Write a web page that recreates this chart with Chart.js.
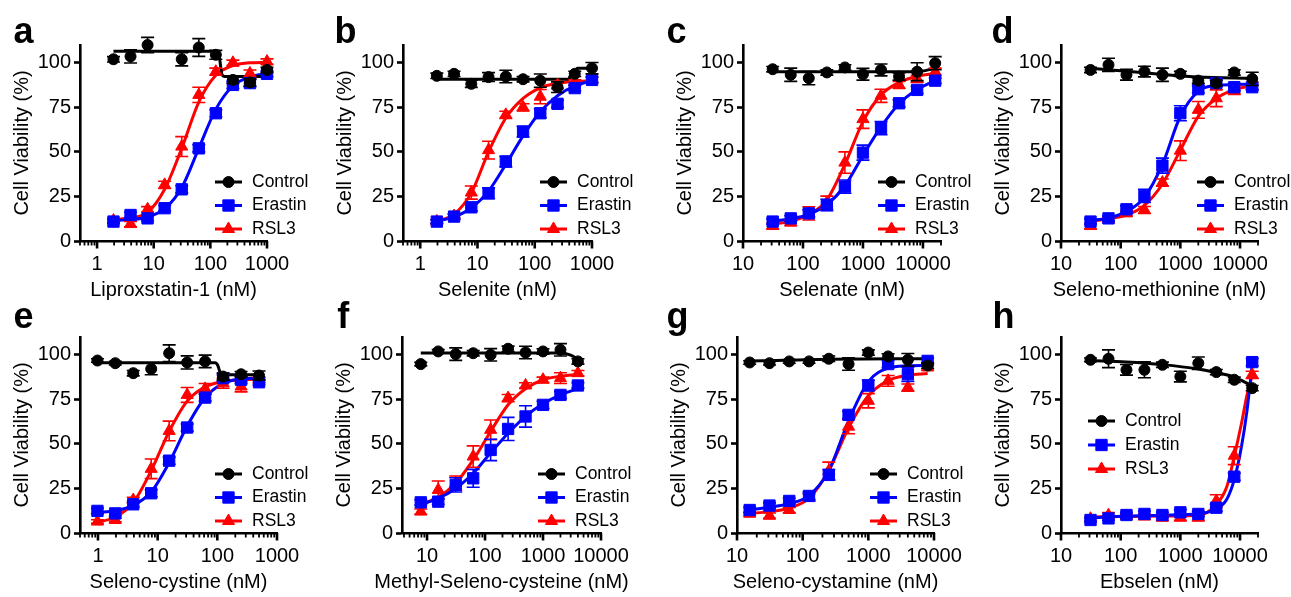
<!DOCTYPE html>
<html>
<head>
<meta charset="utf-8">
<script src="https://cdn.jsdelivr.net/npm/chart.js@4.4.1/dist/chart.umd.min.js"></script>
<style>
    html, body { margin: 0; padding: 0; background: #fff; }
    body { width: 1291px; height: 597px; position: relative; overflow: hidden; font-family: 'Liberation Sans', Arial, sans-serif; }
    canvas { position: absolute; }
    .letra { position: absolute; font-weight: bold; font-size: 36px; line-height: 36px; color: #000; }
</style>
</head>
<body>
<script>
// Concentraciones (nM) y marcas del eje x
const concAB = [1.95, 3.9, 7.8, 15.6, 31.25, 62.5, 125, 250, 500, 1000];
const concCDH = [31.25, 62.5, 125, 250, 500, 1000, 2000, 4000, 8000, 16000];
const concE = [0.98, 1.95, 3.9, 7.8, 15.6, 31.25, 62.5, 125, 250, 500];
const concF = [7.8, 15.6, 31.25, 62.5, 125, 250, 500, 1000, 2000, 4000];
const concG = [15.6, 31.25, 62.5, 125, 250, 500, 1000, 2000, 4000, 8000];
const ticksABE = [1, 10, 100, 1000];
const ticksOtros = [10, 100, 1000, 10000];
const yTicks = [0, 25, 50, 75, 100];
const series = ['Control', 'Erastin', 'RSL3'];

// a - Liproxstatin-1
const ctrlA = [102, 103.6, 110, null, 102, 108.6, 104.5, 90.4, 89, 96];
const ctrlSemA = [1.5, 3.7, 4.3, null, 3.7, 5, 2.5, 2, 2, 1.5];
const erasA = [10.9, 14.6, 12.7, 18.4, 29, 52, 71.7, 87.6, 88.6, 93.8];
const erasSemA = [1, 1.5, 1.5, 1.5, 2, 2, 2, 2, 2, 1.5];
const rslA = [11.5, 9.5, 17.8, 31.5, 53, 82, 95, 100, 94, 100.7];
const rslSemA = [1, 1.5, 1.5, 2, 5.6, 4.3, 2, 1.5, 2, 1.5];
const ctrlFitXA = [1.95, 125, 140, 160, 180, 1000];
const ctrlFitA = [106.5, 106.5, 105.5, 93.5, 92.3, 92.3];
const erasFitA = [11.5, 12, 13.5, 18, 30, 52, 74, 87, 92, 94];
const rslFitA = [12, 13, 16, 29, 52, 78, 93, 98.5, 100, 100.3];

// b - Selenite
const ctrlB = [92.7, 93.8, 88.2, 92, 92.3, 90.8, 90, 86.3, 93.8, 97];
const ctrlSemB = [1.5, 1.5, 2, 2.5, 3.5, 1.5, 3.7, 3, 1.5, 3.2];
const erasB = [10.9, 13.7, 18.9, 26.8, 44.6, 61.4, 71.7, 77, 85.8, 90.4];
const erasSemB = [1, 1.5, 2, 3, 3, 3, 2.5, 2, 1.5, 1.5];
const rslB = [11, 14, 27.2, 51, 70.8, 75, 81, 87.5, 89, 90.5];
const rslSemB = [1, 1, 3.7, 5, 2, 2, 4, 2, 1.5, 1.5];
const ctrlFitXB = [1.95, 380, 460, 560, 1000];
const ctrlFitB = [90.8, 90.8, 94, 97, 97];
const erasFitB = [11, 13.5, 18.5, 28, 43, 59, 72.5, 81.5, 87, 90];
const rslFitB = [11, 15, 27, 50, 69, 80, 86, 88.5, 89.5, 90];

// c - Selenate
const ctrlC = [96.4, 93.3, 91.4, 94.6, 97.4, 93.6, 96, 92.3, 95, 99.8];
const ctrlSemC = [1.5, 3.7, 3.7, 1.5, 1.5, 3.3, 3.3, 2, 5, 3.7];
const erasC = [10.9, 12.7, 15.5, 20.2, 30.5, 49.6, 63.3, 77.3, 84.8, 90];
const erasSemC = [1.5, 1.5, 2, 3.2, 3.7, 4.2, 3.7, 2, 2, 1.5];
const rslC = [8.4, 10.3, 15.5, 21.5, 44, 68.4, 81.5, 87.6, 91, 95];
const rslSemC = [1.5, 1.5, 3.7, 3.7, 6, 5.2, 3.7, 2, 2, 2];
const ctrlFitXC = [31.25, 8000, 16000];
const ctrlFitC = [95, 95, 97];
const erasFitC = [11, 12.5, 15, 20.5, 31, 48, 64, 77, 85, 90];
const rslFitC = [9.5, 11, 15, 23, 43, 67, 82, 89, 92.5, 94];

// d - Seleno-methionine
const ctrlD = [96, 98.9, 93.3, 95.1, 93.3, 93.8, 90, 88.6, 94.6, 91];
const ctrlSemD = [1.5, 3.7, 3, 3, 3.7, 1.5, 1.5, 1.5, 1.5, 3.7];
const erasD = [10.9, 12.7, 17.8, 25.3, 42.3, 71.7, 85.2, 88.6, 86.3, 86.3];
const erasSemD = [1.5, 1.5, 2, 3.7, 4.2, 4.2, 2, 2, 2, 1.5];
const rslD = [8.4, 12, 15.5, 17.4, 32.8, 50.7, 73.6, 80.1, 84.8, 87];
const rslSemD = [1.5, 1.5, 1.5, 2, 2, 5.5, 4.7, 4.7, 2.5, 2];
const ctrlFitXD = [31.25, 125, 500, 2000, 16000];
const ctrlFitD = [97, 95.3, 93.5, 92, 91.2];
const erasFitD = [11.5, 13, 16.5, 24.5, 43, 70, 84, 87.3, 87.8, 88];
const rslFitD = [11, 12.5, 14.5, 20, 32, 51, 70, 80, 85, 87];

// e - Seleno-cystine
const ctrlE = [96.8, 95.3, 89.7, 92.1, 100.9, 95.7, 96.3, 87.8, 89.1, 88.4];
const ctrlSemE = [1, 1, 1.5, 3.3, 4.7, 3.7, 3.5, 2, 1.5, 2.5];
const erasE = [12.4, 11, 16.1, 22.3, 40.6, 59.2, 76, 86.9, 86, 84.6];
const erasSemE = [1.5, 1.5, 1.5, 2, 2, 2, 2, 2, 2, 1.5];
const rslE = [6.4, 7.3, 18.5, 36, 57.3, 77.5, 80.9, 84, 82.2, 86];
const rslSemE = [1, 1, 1.5, 5.5, 5.5, 4.2, 3, 2.8, 3, 1.5];
const ctrlFitXE = [0.98, 92, 102, 112, 125, 500];
const ctrlFitE = [95.5, 95.5, 94, 89.8, 88.8, 88.8];
const erasFitE = [11.5, 12.5, 15.5, 23, 39.5, 60, 76, 84, 86.5, 87];
const rslFitE = [6, 9, 17, 35, 57, 74, 82, 85, 86, 86.5];

// f - Methyl-Seleno-cysteine
const ctrlF = [94.8, 101.9, 100.4, 100.9, 100, 103.4, 101.3, 101.9, 102.8, 96.3];
const ctrlSemF = [1, 1, 3.5, 1.5, 3.5, 1.5, 3.5, 1.5, 3.5, 1.5];
const erasF = [17.2, 17.6, 27, 30.7, 46.6, 58.4, 65.4, 71.9, 77.5, 82.8];
const erasSemF = [1.5, 1.5, 4, 5, 6, 6.5, 6, 2, 2, 1.5];
const rslF = [12, 24.2, 28, 42.9, 57.9, 75.7, 82.8, 86, 86.9, 89.7];
const rslSemF = [1.5, 5, 4, 6, 5.5, 2, 1.5, 1.5, 3, 1.5];
const ctrlFitXF = [7.8, 2000, 3000, 4000];
const ctrlFitF = [101, 101, 99.8, 97.5];
const erasFitF = [16, 19.5, 25, 33.5, 45, 56, 65.5, 72.5, 77.5, 81];
const rslFitF = [16, 20, 28, 41, 57, 72, 81, 86, 88, 89];

// g - Seleno-cystamine
const ctrlG = [95.7, 95.3, 96.3, 96.3, 97.8, 94.8, 101.3, 99.1, 97.2, 94];
const ctrlSemG = [1, 1, 1, 1, 1.5, 3.5, 1.5, 1.5, 3.5, 1.5];
const erasG = [12.9, 15.4, 18, 20.8, 32.6, 66.3, 82.8, 94.8, 89.1, 96.6];
const erasSemG = [1.5, 1.5, 1.5, 2, 3, 2, 3, 2, 4, 1.5];
const rslG = [10.8, 9.7, 12.9, 19.9, 34.8, 59.7, 74.2, 85.4, 81.6, 92.9];
const rslSemG = [1, 1.5, 1.5, 2, 5, 4, 4, 3, 2, 1.5];
const ctrlFitXG = [15.6, 250, 8000];
const ctrlFitG = [96.5, 97.5, 97.8];
const erasFitG = [13, 14.5, 16.5, 21, 35, 63, 85, 92.5, 93.8, 94];
const rslFitG = [11, 12, 14, 19.5, 35, 59, 77, 85.5, 88.5, 89.5];

// h - Ebselen
const ctrlH = [97.2, 97.8, 91.6, 91.6, 94.4, 87.8, 95.3, 90.3, 86, 81.3];
const ctrlSemH = [1, 5, 3, 4.5, 1.5, 3, 3.5, 1.5, 1.5, 1.5];
const erasH = [7.3, 8.2, 10.1, 10.7, 10.1, 11.6, 10.7, 14.2, 31.6, 95.9];
const erasSemH = [1, 1, 1.5, 1.5, 1.5, 1.5, 1.5, 2, 2, 2];
const rslH = [8, 10, 9.5, 9.2, 8.6, 8.6, 8.6, 18, 43.4, 88.8];
const rslSemH = [1, 1.5, 1, 1.5, 1.5, 1.5, 1.5, 3.5, 5, 2];
const ctrlFitXH = [31.25, 125, 500, 2000, 4000, 8000, 16000];
const ctrlFitH = [96.8, 96, 94.5, 92, 90, 87.5, 82.5];
const fitXH = [31.25, 125, 500, 2000, 4000, 6000, 8000, 10500, 13000, 15000, 16000];
const erasFitH = [8.5, 9.5, 10, 10.8, 13.5, 19, 30, 48, 68, 86, 95];
const rslFitH = [9, 9.3, 9.5, 10, 16, 26, 43, 61, 77, 85, 89];

// Estilo de cada serie
const estilos = [
    { color: '#000000', forma: 'circle', radio: 5.5 },
    { color: '#0000ff', forma: 'rect', radio: 8 },
    { color: '#ff0000', forma: 'triangle', radio: 7 }
];

const fuente = "'Liberation Sans', Arial, sans-serif";

// Paneles: datos + posición en la página
const paneles = [
    { letra: 'a', titulo: 'Liproxstatin-1 (nM)', conc: concAB, mayores: ticksABE,
      vals: [ctrlA, erasA, rslA], sem: [ctrlSemA, erasSemA, rslSemA],
      fits: [[ctrlFitXA, ctrlFitA], [concAB, erasFitA], [concAB, rslFitA]],
      L: 80, B: 241, W: 187, min: 0.5, max: 1000, leyX: 135, leyY: [-59, -35.5, -12] },
    { letra: 'b', titulo: 'Selenite (nM)', conc: concAB, mayores: ticksABE,
      vals: [ctrlB, erasB, rslB], sem: [ctrlSemB, erasSemB, rslSemB],
      fits: [[ctrlFitXB, ctrlFitB], [concAB, erasFitB], [concAB, rslFitB]],
      L: 403, B: 241, W: 189, min: 0.5, max: 1000, leyX: 137, leyY: [-59, -35.5, -12] },
    { letra: 'c', titulo: 'Selenate (nM)', conc: concCDH, mayores: ticksOtros,
      vals: [ctrlC, erasC, rslC], sem: [ctrlSemC, erasSemC, rslSemC],
      fits: [[ctrlFitXC, ctrlFitC], [concCDH, erasFitC], [concCDH, rslFitC]],
      L: 743, B: 241, W: 198, min: 10, max: 20000, leyX: 135, leyY: [-59, -35.5, -12] },
    { letra: 'd', titulo: 'Seleno-methionine (nM)', conc: concCDH, mayores: ticksOtros,
      vals: [ctrlD, erasD, rslD], sem: [ctrlSemD, erasSemD, rslSemD],
      fits: [[ctrlFitXD, ctrlFitD], [concCDH, erasFitD], [concCDH, rslFitD]],
      L: 1061, B: 241, W: 197, min: 10, max: 20000, leyX: 136, leyY: [-59, -35.5, -12] },
    { letra: 'e', titulo: 'Seleno-cystine (nM)', conc: concE, mayores: ticksABE,
      vals: [ctrlE, erasE, rslE], sem: [ctrlSemE, erasSemE, rslSemE],
      fits: [[ctrlFitXE, ctrlFitE], [concE, erasFitE], [concE, rslFitE]],
      L: 80, B: 533, W: 197, min: 0.5, max: 1000, leyX: 135, leyY: [-59, -35.5, -12] },
    { letra: 'f', titulo: 'Methyl-Seleno-cysteine (nM)', conc: concF, mayores: ticksOtros,
      vals: [ctrlF, erasF, rslF], sem: [ctrlSemF, erasSemF, rslSemF],
      fits: [[ctrlFitXF, ctrlFitF], [concF, erasFitF], [concF, rslFitF]],
      L: 402, B: 533, W: 199, min: 3.7, max: 10000, leyX: 136, leyY: [-59, -35.5, -12] },
    { letra: 'g', titulo: 'Seleno-cystamine (nM)', conc: concG, mayores: ticksOtros,
      vals: [ctrlG, erasG, rslG], sem: [ctrlSemG, erasSemG, rslSemG],
      fits: [[ctrlFitXG, ctrlFitG], [concG, erasFitG], [concG, rslFitG]],
      L: 737, B: 533, W: 197, min: 10, max: 10000, leyX: 133, leyY: [-59, -35.5, -12] },
    { letra: 'h', titulo: 'Ebselen (nM)', conc: concCDH, mayores: ticksOtros,
      vals: [ctrlH, erasH, rslH], sem: [ctrlSemH, erasSemH, rslSemH],
      fits: [[ctrlFitXH, ctrlFitH], [fitXH, erasFitH], [fitXH, rslFitH]],
      L: 1061, B: 533, W: 197, min: 10, max: 20000, leyX: 27, leyY: [-112, -88, -64] }
];

// Posición de las letras de panel (borde izquierdo, arriba)
const letras = [
    ['a', 13.6, 12.5], ['b', 334.5, 12.5], ['c', 666.6, 12.5], ['d', 991.6, 12.5],
    ['e', 13.6, 297.5], ['f', 337.3, 297.5], ['g', 666.6, 297.5], ['h', 992.5, 297.5]
];

const MARGEN_DER = 70;

// Dibujar un marcador (círculo, cuadrado o triángulo)
function marcador(ctx, est, x, y) {
    ctx.fillStyle = est.color;
    ctx.strokeStyle = est.color;
    ctx.lineWidth = 1;
    Chart.helpers.drawPoint(ctx, { pointStyle: est.forma, radius: est.radio, borderWidth: 1, rotation: 0 }, x, y);
}

// Barras de error, justo antes de los puntos de cada serie
const barrasError = {
    id: 'barrasError',
    beforeDatasetDraw(chart, args) {
        const ds = chart.data.datasets[args.index];
        if (!ds.conError) return;
        const ctx = chart.ctx;
        const ys = chart.scales.y;
        ctx.save();
        ctx.strokeStyle = ds.borderColor;
        ctx.lineWidth = 1.6;
        args.meta.data.forEach((pt, i) => {
            const raw = ds.data[i];
            if (!raw.e) return;
            const y1 = ys.getPixelForValue(raw.y + raw.e);
            const y2 = ys.getPixelForValue(raw.y - raw.e);
            ctx.beginPath();
            ctx.moveTo(pt.x, y1); ctx.lineTo(pt.x, y2);
            ctx.moveTo(pt.x - 6.5, y1); ctx.lineTo(pt.x + 6.5, y1);
            ctx.moveTo(pt.x - 6.5, y2); ctx.lineTo(pt.x + 6.5, y2);
            ctx.stroke();
        });
        ctx.restore();
    }
};

// Marcas mayores y menores del eje logarítmico + título del eje x
const marcasX = {
    id: 'marcasX',
    afterDraw(chart, args, opts) {
        const xs = chart.scales.x;
        const ctx = chart.ctx;
        const area = chart.chartArea;
        const base = area.bottom;
        ctx.save();
        ctx.strokeStyle = '#000';
        for (let k = Math.floor(Math.log10(xs.min)); Math.pow(10, k) <= xs.max * 1.001; k++) {
            for (let m = 1; m <= 9; m++) {
                const v = m * Math.pow(10, k);
                if (v < xs.min * 0.999 || v > xs.max * 1.001) continue;
                const px = xs.getPixelForValue(v);
                ctx.lineWidth = m === 1 ? 2.6 : 1.8;
                ctx.beginPath();
                ctx.moveTo(px, base);
                ctx.lineTo(px, base + (m === 1 ? 7.5 : 4.5));
                ctx.stroke();
            }
        }
        // título sin comprimir (puede ser más ancho que el eje)
        ctx.fillStyle = '#000';
        ctx.font = '20px ' + fuente;
        ctx.textAlign = 'center';
        ctx.textBaseline = 'middle';
        ctx.fillText(opts.titulo, (area.left + area.right) / 2, base + 49);
        ctx.restore();
    }
};

// Leyenda dentro del área del gráfico
const leyenda = {
    id: 'leyenda',
    afterDraw(chart, args, opts) {
        const ctx = chart.ctx;
        const area = chart.chartArea;
        const x0 = area.left + opts.dx;
        ctx.save();
        ctx.font = '17.5px ' + fuente;
        ctx.textBaseline = 'middle';
        series.forEach((nombre, i) => {
            const y = area.bottom + opts.dy[i];
            const est = estilos[i];
            ctx.strokeStyle = est.color;
            ctx.lineWidth = 3;
            ctx.beginPath();
            ctx.moveTo(x0, y);
            ctx.lineTo(x0 + 27, y);
            ctx.stroke();
            marcador(ctx, est, x0 + 13.5, y);
            ctx.fillStyle = '#000';
            ctx.fillText(nombre, x0 + 37, y);
        });
        ctx.restore();
    }
};

function crearPanel(p) {
    const canvas = document.createElement('canvas');
    const ancho = 70 + p.W + MARGEN_DER;
    const alto = 274;
    canvas.width = ancho;
    canvas.height = alto;
    canvas.style.width = ancho + 'px';
    canvas.style.height = alto + 'px';
    canvas.style.left = (p.L - 70) + 'px';
    canvas.style.top = (p.B - 212) + 'px';
    document.body.appendChild(canvas);

    const datasets = [];
    // puntos con barras de error (Control arriba)
    series.forEach((nombre, i) => {
        const est = estilos[i];
        datasets.push({
            label: nombre,
            data: p.conc.map((x, j) => ({ x: x, y: p.vals[i][j], e: p.sem[i][j] })).filter(d => d.y !== null),
            conError: true,
            showLine: false,
            pointStyle: est.forma,
            pointRadius: est.radio,
            pointBackgroundColor: est.color,
            pointBorderColor: est.color,
            pointBorderWidth: 1,
            borderColor: est.color,
            backgroundColor: est.color,
            clip: false,
            order: i
        });
    });
    // curvas de ajuste
    series.forEach((nombre, i) => {
        const est = estilos[i];
        const [fx, fy] = p.fits[i];
        datasets.push({
            label: nombre + ' fit',
            data: fx.map((x, j) => ({ x: x, y: fy[j] })),
            showLine: true,
            pointRadius: 0,
            borderColor: est.color,
            borderWidth: 3,
            cubicInterpolationMode: 'monotone',
            fill: false,
            clip: false,
            order: 3 + i
        });
    });

    const fuenteEje = { family: fuente, size: 20 };

    new Chart(canvas, {
        type: 'scatter',
        data: { datasets: datasets },
        options: {
            responsive: false,
            animation: false,
            devicePixelRatio: 1,
            layout: { padding: { left: 0, top: 16, right: MARGEN_DER, bottom: 0 } },
            plugins: {
                legend: { display: false },
                tooltip: { enabled: false },
                leyenda: { dx: p.leyX, dy: p.leyY },
                marcasX: { titulo: p.titulo }
            },
            scales: {
                x: {
                    type: 'logarithmic',
                    position: 'bottom',
                    min: p.min,
                    max: p.max,
                    afterBuildTicks: ax => { ax.ticks = p.mayores.map(v => ({ value: v })); },
                    afterFit: ax => { ax.height = 62; },
                    ticks: { autoSkip: false, maxRotation: 0, padding: 4, color: '#000', font: fuenteEje, callback: v => String(v) },
                    grid: { display: true, drawOnChartArea: false, drawTicks: true, tickLength: 7, tickColor: 'rgba(0,0,0,0)' },
                    border: { display: true, color: '#000', width: 2.6 },
                    title: { display: false }
                },
                y: {
                    type: 'linear',
                    min: 0,
                    max: 110,
                    afterBuildTicks: ax => { ax.ticks = yTicks.map(v => ({ value: v })); },
                    afterFit: ax => { ax.width = 70; },
                    ticks: { padding: 3, color: '#000', font: fuenteEje },
                    grid: { display: true, drawOnChartArea: false, drawTicks: true, tickLength: 6, tickWidth: 2.6, tickColor: '#000' },
                    border: { display: true, color: '#000', width: 2.6 },
                    title: { display: true, text: 'Cell Viability (%)', color: '#000', font: fuenteEje, padding: 0 }
                }
            }
        },
        plugins: [barrasError, marcasX, leyenda]
    });
}

paneles.forEach(crearPanel);

letras.forEach(([l, x, y]) => {
    const div = document.createElement('div');
    div.className = 'letra';
    div.textContent = l;
    div.style.left = x + 'px';
    div.style.top = y + 'px';
    document.body.appendChild(div);
});
</script>
</body>
</html>
